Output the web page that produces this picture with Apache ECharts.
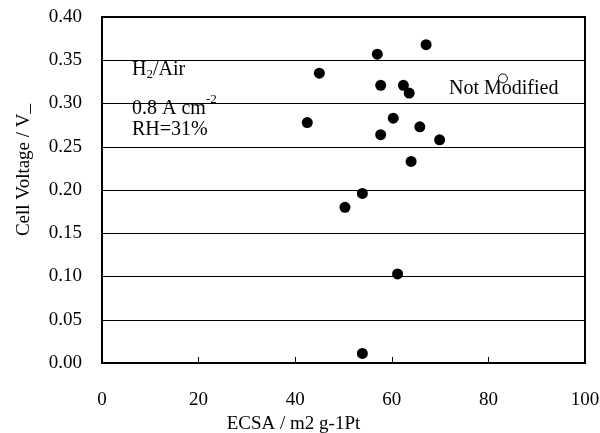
<!DOCTYPE html>
<html><head><meta charset="utf-8">
<script src="https://cdn.jsdelivr.net/npm/echarts@6/dist/echarts.min.js"></script>
<style>html,body{margin:0;padding:0;background:#fff}#c{width:600px;height:433px}</style>
</head><body><div id="c"></div>
<script>
const modifiedX = [67.1, 57.0, 45.0, 57.7, 62.4, 63.6, 42.5, 60.3, 65.8, 57.7, 69.9, 64.0, 53.9, 50.3, 61.2, 53.9];
const modifiedY = [0.368, 0.357, 0.335, 0.321, 0.321, 0.312, 0.278, 0.283, 0.273, 0.264, 0.258, 0.233, 0.196, 0.180, 0.103, 0.011];
const notModifiedX = [83.0];
const notModifiedY = [0.329];
const xTicks = [0, 20, 40, 60, 80, 100];
const yTicks = [0, 0.05, 0.10, 0.15, 0.20, 0.25, 0.30, 0.35, 0.40];
const FONT = '"Liberation Serif", "Times New Roman", serif';

const chart = echarts.init(document.getElementById('c'));
chart.setOption({
  animation: false,
  backgroundColor: '#fff',
  textStyle: {fontFamily: FONT},
  grid: {left: 102, right: 15, top: 17, bottom: 70, outerBoundsMode: 'none', containLabel: false, show: true, borderColor: '#000', borderWidth: 2, backgroundColor: 'transparent'},
  xAxis: {
    type: 'value', min: xTicks[0], max: xTicks[xTicks.length - 1], interval: 20,
    name: 'ECSA / m2 g-1Pt', nameLocation: 'middle', nameGap: 51,
    nameTextStyle: {fontFamily: FONT, fontSize: 19, color: '#000', padding: [0, 100, 0, 0]},
    axisLine: {show: true, lineStyle: {color: '#000', width: 2}},
    axisTick: {show: true, inside: true, length: 6, lineStyle: {color: '#000', width: 1}},
    axisLabel: {fontFamily: FONT, fontSize: 19, color: '#000', margin: 28},
    splitLine: {show: false}
  },
  yAxis: {
    type: 'value', min: yTicks[0], max: yTicks[yTicks.length - 1], interval: 0.05,
    name: 'Cell Voltage / V_', nameLocation: 'middle', nameGap: 68,
    nameTextStyle: {fontFamily: FONT, fontSize: 19, color: '#000', padding: [0, 0, 0, 40]},
    axisLine: {show: true, lineStyle: {color: '#000', width: 2}},
    axisTick: {show: false},
    axisLabel: {fontFamily: FONT, fontSize: 19, color: '#000', margin: 20, padding: [5, 0, 0, 0], formatter: v => v.toFixed(2)},
    splitLine: {show: true, lineStyle: {color: '#000', width: 1}}
  },
  series: [
    {
      name: 'Modified', type: 'scatter', symbol: 'circle', symbolSize: 11,
      itemStyle: {color: '#000', opacity: 1},
      data: modifiedX.map((x, i) => [x, modifiedY[i]])
    },
    {
      name: 'Not Modified', type: 'scatter', symbol: 'circle', symbolSize: 9,
      itemStyle: {color: '#fff', borderColor: '#000', borderWidth: 1, opacity: 1},
      data: notModifiedX.map((x, i) => [x, notModifiedY[i]])
    }
  ],
  graphic: [
    {type: 'text', left: 132, top: 60, style: {text: '{n|H}{s|2}{n|/Air}', rich: {n: {fontFamily: FONT, fontSize: 20, fill: '#000'}, s: {fontFamily: FONT, fontSize: 13, fill: '#000', verticalAlign: 'bottom', padding: [9, 0, 0, 0]}}}},
    {type: 'text', left: 132, top: 93, style: {text: '{n|0.8 A cm}{p|-2}', rich: {n: {fontFamily: FONT, fontSize: 20, fill: '#000', padding: [7, 0, 0, 0]}, p: {fontFamily: FONT, fontSize: 13, fill: '#000', padding: [0, 0, 11, 0]}}}},
    {type: 'text', left: 132, top: 120, style: {text: 'RH=31%', fontFamily: FONT, fontSize: 20, fill: '#000'}},
    {type: 'text', left: 449, top: 79, style: {text: 'Not Modified', fontFamily: FONT, fontSize: 20, fill: '#000'}}
  ]
});
</script></body></html>
